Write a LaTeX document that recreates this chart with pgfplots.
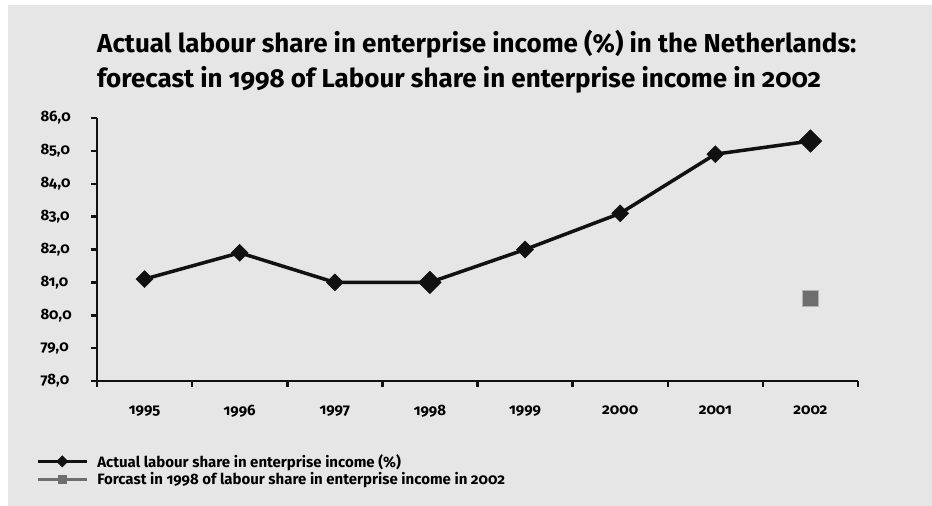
\documentclass[border=0pt]{standalone}
\usepackage{pgfplots}
\pgfplotsset{compat=1.18}
\usepackage{fontspec}
\setmainfont{Fira Sans}[Numbers=OldStyle]
\definecolor{bg}{HTML}{E6E6E6}
\definecolor{fc}{HTML}{6E6E6E}
\definecolor{ln}{HTML}{111111}
\begin{document}
\begin{tikzpicture}
\path[use as bounding box] (0pt,0pt) rectangle (932pt,506pt);
\fill[bg] (8pt,0pt) rectangle (932pt,501pt);
\node[anchor=base west, inner sep=0pt, font=\bfseries\fontsize{26}{30}\selectfont] at (97pt,453pt) {Actual labour share in enterprise income (\%) in the Netherlands:};
\node[anchor=base west, inner sep=0pt, font=\bfseries\fontsize{26}{30}\selectfont] at (97pt,418pt) {forecast in 1998 of Labour share in enterprise income in 2002};
\begin{axis}[
  at={(97pt,125pt)}, anchor=south west,
  scale only axis, width=761pt, height=263pt,
  xmin=-0.5, xmax=7.5, ymin=78, ymax=86,
  axis x line=bottom, axis y line=left,
  axis line style={-, line width=2.5pt, ln},
  tick align=outside,
  xtick={0,...,7},
  xticklabels={1995,1996,1997,1998,1999,2000,2001,2002},
  major x tick style={draw=none},
  minor xtick={-0.5,0.5,...,7.5},
  minor tick length=6pt,
  minor x tick style={line width=2.5pt, ln},
  ytick={78,...,86},
  major tick length=6pt,
  y tick style={line width=2.5pt, ln},
  /pgf/number format/assume math mode=true,
  yticklabel style={/pgf/number format/fixed, /pgf/number format/fixed zerofill, /pgf/number format/precision=1, /pgf/number format/use comma},
  ticklabel style={font=\bfseries\fontsize{15}{17}\selectfont},
  xticklabel style={yshift=-15pt},
  yticklabel style={xshift=-54pt, anchor=west},
  legend image code/.code={\draw[mark repeat=2, mark phase=2, #1] plot coordinates {(0pt,0pt)(24.5pt,0pt)(49pt,0pt)};},
  legend image post style={mark size=4pt, line width=3pt},
  legend style={at={(axis description cs:-0.08,-0.27)}, anchor=north west, draw=none, fill=none,
    font=\bfseries\fontsize{15}{17}\selectfont, inner sep=0pt, row sep=0pt,
    /tikz/every odd column/.append style={column sep=7pt}},
  legend cell align=left,
]
\addplot[ln, line width=3.5pt, mark=square*, mark size=6pt, mark options={rotate=45, solid, fill=ln, draw=ln, line width=0.5pt}]
  coordinates {(0,81.1)(1,81.9)(2,81.0)(3,81.0)(4,82.0)(5,83.1)(6,84.9)(7,85.3)};
\addlegendentry{Actual labour share in enterprise income (\%)}
\addlegendimage{fc, line width=3pt, mark=square*, mark options={fill=fc, draw=fc, line width=0.5pt}}
\addlegendentry{Forcast in 1998 of labour share in enterprise income in 2002}
\addplot[forget plot, only marks, mark=square*, mark size=8pt, mark options={rotate=45, fill=ln, draw=ln, line width=0.5pt}]
  coordinates {(3,81.0)(7,85.3)};
\addplot[forget plot, only marks, mark=square*, mark size=8pt, mark options={fill=fc, draw=gray!60, line width=0.8pt}]
  coordinates {(7,80.5)};
\end{axis}
\end{tikzpicture}
\end{document}
